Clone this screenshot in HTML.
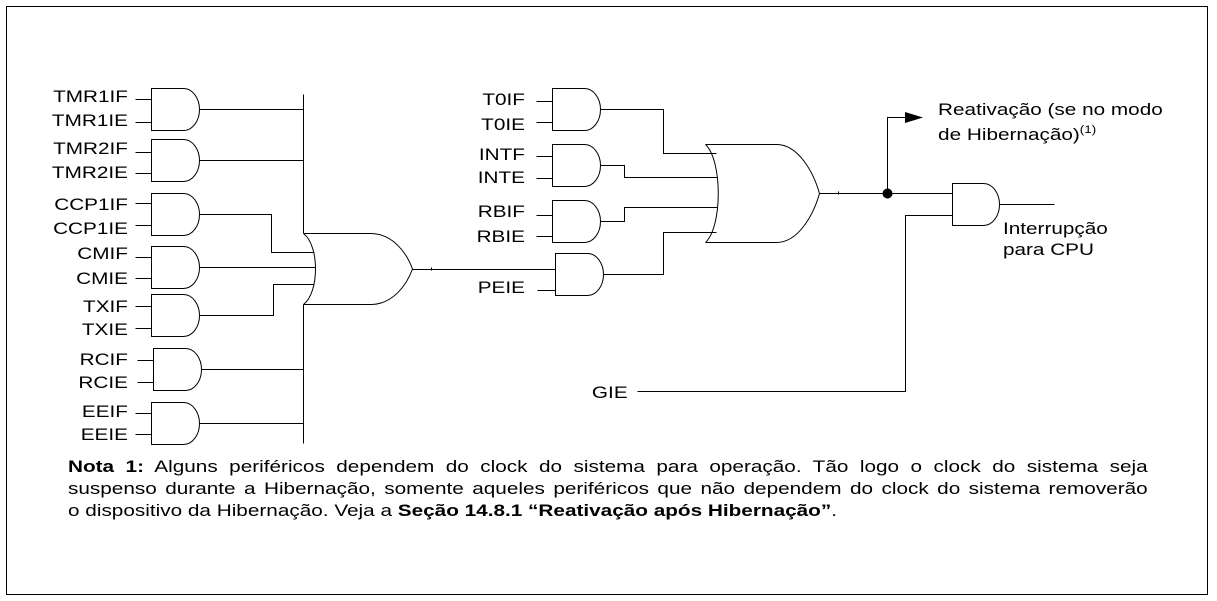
<!DOCTYPE html>
<html>
<head>
<meta charset="utf-8">
<style>
html,body{margin:0;padding:0;background:#fff;}
body{width:1217px;height:601px;position:relative;overflow:hidden;}
svg{position:absolute;left:0;top:0;}
.note{position:absolute;left:68px;top:456px;width:885px;transform:scaleX(1.22);transform-origin:0 0;font-family:"Liberation Sans",Arial,sans-serif;font-size:17px;line-height:22px;color:#000;}
.j{text-align:justify;text-align-last:justify;}
b{font-weight:bold;}
</style>
</head>
<body>
<svg width="1217" height="601" viewBox="0 0 1217 601" xmlns="http://www.w3.org/2000/svg">
  <g transform="translate(0.5,0.5)" fill="none" stroke="#000" stroke-width="1">
    <!-- border -->
    <rect x="6" y="6" width="1201" height="588"/>

    <!-- left AND gates -->
    <path d="M151,88 H183 A16,21 0 0 1 183,130 H151 Z"/>
    <path d="M151,139 H183 A16,21 0 0 1 183,181 H151 Z"/>
    <path d="M151,193 H183 A16,21 0 0 1 183,235 H151 Z"/>
    <path d="M151,246 H183 A16,21 0 0 1 183,288 H151 Z"/>
    <path d="M151,294 H183 A16,21 0 0 1 183,336 H151 Z"/>
    <path d="M153,348 H185 A16,21 0 0 1 185,390 H153 Z"/>
    <path d="M151,402 H183 A16,21 0 0 1 183,444 H151 Z"/>

    <!-- left inputs -->
    <path d="M135,99 H151 M135,122 H151 M135,152 H151 M135,173 H151 M135,203 H151 M135,225 H151 M135,257 H151 M135,278 H151 M135,306 H151 M135,328 H151 M137,360 H153 M137,382 H153 M135,413 H151 M135,434 H151"/>

    <!-- left outputs -->
    <path d="M199,109 H303"/>
    <path d="M199,160 H303"/>
    <path d="M199,214 H271 V252 H314"/>
    <path d="M199,267 H315"/>
    <path d="M199,315 H273 V284 H314"/>
    <path d="M201,369 H303"/>
    <path d="M199,423 H303"/>
    <path d="M303,94 V233 M303,304 V443"/>

    <!-- OR1 -->
    <path d="M303,233 H370 C392,233 406,252 412,268.5 C406,285 392,304 370,304 H303"/>
    <path d="M303,233 C319,245 319,292 303,304"/>
    <path d="M412,269 H555"/>
    <path d="M431,267 V270"/>

    <!-- middle AND gates -->
    <path d="M552,88 H584 A16,21 0 0 1 584,130 H552 Z"/>
    <path d="M552,144 H584 A16,21 0 0 1 584,186 H552 Z"/>
    <path d="M552,200 H584 A16,21 0 0 1 584,242 H552 Z"/>
    <path d="M555,253 H587 A16,21 0 0 1 587,295 H555 Z"/>

    <!-- middle inputs -->
    <path d="M536,101 H552 M536,122 H552 M536,156 H552 M536,178 H552 M536,215 H552 M536,236 H552 M537,290 H555"/>

    <!-- middle outputs -->
    <path d="M600,109 H663 V153 H716"/>
    <path d="M600,165 H624 V177 H717"/>
    <path d="M600,221 H624 V207 H717"/>
    <path d="M603,274 H663 V232 H716"/>

    <!-- OR2 -->
    <path d="M705,144 H776 C798,144 813,172 819,193 C813,214 798,242 776,242 H705"/>
    <path d="M705,144 C722,160 722,226 705,242"/>
    <path d="M819,193 H887"/>
    <path d="M838,191 V194"/>

    <!-- wake-up arrow -->
    <path d="M887,193 V117 H906"/>

    <!-- right AND gate -->
    <path d="M952,183 H983 A16,21 0 0 1 983,225 H952 Z"/>
    <path d="M887,193 H952"/>
    <path d="M637,391 H905 V215 H952"/>
    <path d="M999,204 H1054"/>
  </g>
  <polygon points="905,112 923,117.5 905,123" fill="#000"/>
  <circle cx="887.5" cy="193.5" r="5" fill="#000"/>

  <g transform="scale(1.22,1)" font-family="Liberation Sans, Arial, sans-serif" font-size="17" fill="#000">
    <g text-anchor="end">
      <text x="104.9" y="102">TMR1IF</text>
      <text x="104.9" y="126">TMR1IE</text>
      <text x="104.9" y="154">TMR2IF</text>
      <text x="104.9" y="178">TMR2IE</text>
      <text x="104.9" y="210">CCP1IF</text>
      <text x="104.9" y="234">CCP1IE</text>
      <text x="104.9" y="259">CMIF</text>
      <text x="104.9" y="284">CMIE</text>
      <text x="104.9" y="312">TXIF</text>
      <text x="104.9" y="335">TXIE</text>
      <text x="104.9" y="365">RCIF</text>
      <text x="104.9" y="388">RCIE</text>
      <text x="104.9" y="417">EEIF</text>
      <text x="104.9" y="440">EEIE</text>

      <text x="430.3" y="105">T0IF</text>
      <text x="430.3" y="130">T0IE</text>
      <text x="430.3" y="160">INTF</text>
      <text x="430.3" y="183">INTE</text>
      <text x="430.3" y="217">RBIF</text>
      <text x="430.3" y="242">RBIE</text>
      <text x="430.3" y="293">PEIE</text>
    </g>
    <text x="485.2" y="398">GIE</text>
    <text x="768.9" y="115">Reativação (se no modo</text>
    <text x="768.9" y="140">de Hibernação)<tspan font-size="11" dy="-7">(1)</tspan></text>
    <text x="822.1" y="234">Interrupção</text>
    <text x="822.1" y="255">para CPU</text>
  </g>
</svg>

<div class="note">
  <div class="j"><b>Nota 1:</b> Alguns periféricos dependem do clock do sistema para operação. Tão logo o clock do sistema seja</div>
  <div class="j">suspenso durante a Hibernação, somente aqueles periféricos que não dependem do clock do sistema removerão</div>
  <div>o dispositivo da Hibernação. Veja a <b>Seção 14.8.1 “Reativação após Hibernação”</b>.</div>
</div>
</body>
</html>
